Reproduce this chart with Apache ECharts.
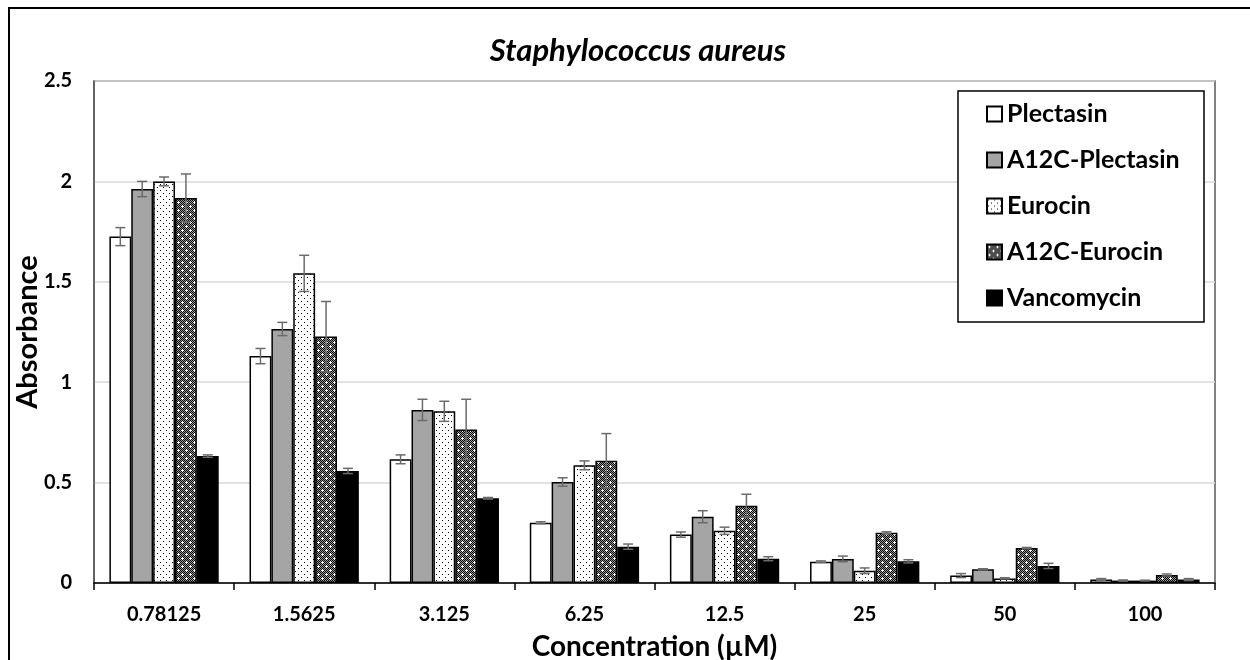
<!DOCTYPE html>
<html>
<head>
<meta charset="utf-8">
<title>Staphylococcus aureus</title>
<script src="https://cdn.jsdelivr.net/npm/echarts@6/dist/echarts.min.js"></script>
<style>
  html, body { margin: 0; padding: 0; background: #fff; }
  #chart { width: 1250px; height: 660px; }
</style>
</head>
<body>
<div id="chart"></div>
<script>
// Concentrations on the x axis (µM)
const categories = ['0.78125', '1.5625', '3.125', '6.25', '12.5', '25', '50', '100'];

// Mean absorbance per peptide / antibiotic, with standard deviations
const plectasin        = [1.725, 1.130, 0.616, 0.300, 0.241, 0.106, 0.037, 0.017];
const plectasinErr     = [0.045, 0.038, 0.022, 0.005, 0.013, 0.004, 0.010, 0.005];
const a12cPlectasin    = [1.962, 1.265, 0.862, 0.503, 0.330, 0.120, 0.068, 0.012];
const a12cPlectasinErr = [0.038, 0.033, 0.053, 0.021, 0.030, 0.014, 0.003, 0.003];
const eurocin          = [2.000, 1.542, 0.855, 0.586, 0.260, 0.061, 0.023, 0.012];
const eurocinErr       = [0.022, 0.090, 0.050, 0.022, 0.018, 0.014, 0.003, 0.002];
const a12cEurocin      = [1.917, 1.227, 0.765, 0.609, 0.385, 0.250, 0.174, 0.040];
const a12cEurocinErr   = [0.120, 0.175, 0.150, 0.135, 0.057, 0.005, 0.003, 0.005];
const vancomycin       = [0.632, 0.558, 0.422, 0.181, 0.121, 0.108, 0.085, 0.017];
const vancomycinErr    = [0.006, 0.013, 0.004, 0.013, 0.010, 0.008, 0.013, 0.005];

const seriesNames = ['Plectasin', 'A12C-Plectasin', 'Eurocin', 'A12C-Eurocin', 'Vancomycin'];
const seriesValues = [plectasin, a12cPlectasin, eurocin, a12cEurocin, vancomycin];
const seriesErrors = [plectasinErr, a12cPlectasinErr, eurocinErr, a12cEurocinErr, vancomycinErr];

// Fill patterns drawn on small tiles
function makeTile(w, h, paint) {
  const c = document.createElement('canvas');
  c.width = w; c.height = h;
  const ctx = c.getContext('2d');
  paint(ctx);
  return c;
}
// sparse black dots on white
const dotTile = makeTile(6, 6, ctx => {
  ctx.fillStyle = '#fff'; ctx.fillRect(0, 0, 6, 6);
  ctx.fillStyle = '#000';
  ctx.fillRect(1, 1, 1, 1);
  ctx.fillRect(4, 4, 1, 1);
});
// dense dark checker with white crosses
const checkTile = makeTile(8, 8, ctx => {
  ctx.fillStyle = '#9a9a9a'; ctx.fillRect(0, 0, 8, 8);
  ctx.fillStyle = '#000';
  for (let y = 0; y < 8; y++) for (let x = 0; x < 8; x++) if ((x + y) % 2 === 0) ctx.fillRect(x, y, 1, 1);
  ctx.fillStyle = '#fff';
  [[2, 2], [6, 6]].forEach(([cx, cy]) => {
    ctx.fillRect(cx - 1, cy, 3, 1);
    ctx.fillRect(cx, cy - 1, 1, 3);
  });
});

const fills = [
  '#ffffff',
  '#a5a5a5',
  { image: dotTile, repeat: 'repeat' },
  { image: checkTile, repeat: 'repeat' },
  '#000000'
];

const CAT_GAP = 0.22;
const N = seriesNames.length;

const barSeries = seriesNames.map((name, i) => ({
  name: name,
  type: 'bar',
  data: seriesValues[i],
  barGap: '0%',
  barCategoryGap: (CAT_GAP * 100) + '%',
  itemStyle: { color: fills[i], borderColor: '#000', borderWidth: 1.5 },
  z: 2
}));

// Error bars: [categoryIndex, seriesIndex, mean, sd]
const errData = [];
seriesValues.forEach((vals, s) => vals.forEach((v, c) => errData.push([c, s, v, seriesErrors[s][c]])));

const errorSeries = {
  type: 'custom',
  name: 'error',
  data: errData,
  z: 5,
  silent: true,
  encode: { x: 0, y: [2] },
  renderItem: function (params, api) {
    const c = api.value(0), s = api.value(1), m = api.value(2), e = api.value(3);
    const band = api.size([1, 0])[0];
    const barW = band * (1 - CAT_GAP) / N;
    const center = api.coord([c, 0])[0];
    const x = center - band * (1 - CAT_GAP) / 2 + barW * (s + 0.5);
    const yHi = api.coord([c, m + e])[1];
    const yLo = api.coord([c, m - e])[1];
    const cap = 5;
    const style = { stroke: '#6b6b6b', lineWidth: 1.5, fill: null };
    return {
      type: 'group',
      children: [
        { type: 'line', shape: { x1: x, y1: yHi, x2: x, y2: yLo }, style: style },
        { type: 'line', shape: { x1: x - cap, y1: yHi, x2: x + cap, y2: yHi }, style: style },
        { type: 'line', shape: { x1: x - cap, y1: yLo, x2: x + cap, y2: yLo }, style: style }
      ]
    };
  }
};

const FONT = 'Lato, "Open Sans", sans-serif';

const chart = echarts.init(document.getElementById('chart'), null, { renderer: 'canvas' });
chart.setOption({
  animation: false,
  backgroundColor: '#fff',
  textStyle: { fontFamily: FONT },
  title: {
    text: 'Staphylococcus aureus',
    left: 633,
    top: 30,
    textAlign: 'center',
    textStyle: { fontFamily: FONT, fontStyle: 'italic', fontWeight: 'bold', fontSize: 31, color: '#000' }
  },
  legend: {
    data: seriesNames,
    orient: 'vertical',
    left: 986,
    top: 101,
    padding: 0,
    itemWidth: 15,
    itemHeight: 15,
    itemGap: 20,
    itemTextGap: 8,
    icon: 'rect',
    selectedMode: false,
    textStyle: { fontFamily: FONT, fontWeight: 'bold', fontSize: 25, color: '#000', lineHeight: 26 }
  },
  grid: {
    left: 94, top: 81, right: 35, bottom: 77,
    outerBoundsMode: 'none',
    containLabel: false,
    show: true, borderColor: '#595959', borderWidth: 1.5, backgroundColor: 'transparent'
  },
  xAxis: {
    type: 'category',
    data: categories,
    name: 'Concentration (\u00b5M)',
    nameLocation: 'middle',
    nameGap: 50,
    nameTextStyle: { fontFamily: FONT, fontWeight: 'bold', fontSize: 28, color: '#000' },
    axisLine: { lineStyle: { color: '#000', width: 1.5 } },
    axisTick: { show: true, length: 7, lineStyle: { color: '#000', width: 1.5 } },
    axisLabel: { fontFamily: FONT, fontWeight: 'bold', fontSize: 20, color: '#000', margin: 22 },
    splitLine: { show: false }
  },
  yAxis: {
    type: 'value',
    min: 0, max: 2.5, interval: 0.5,
    name: 'Absorbance',
    nameLocation: 'middle',
    nameGap: 52,
    nameMoveOverlap: false,
    nameTextStyle: { fontFamily: FONT, fontWeight: 'bold', fontSize: 29, color: '#000' },
    axisLine: { show: true, lineStyle: { color: '#595959', width: 1.5 } },
    axisTick: { show: false },
    axisLabel: { fontFamily: FONT, fontWeight: 'bold', fontSize: 20, color: '#000', margin: 22 },
    splitLine: { lineStyle: { color: '#d9d9d9', width: 1.5 } }
  },
  graphic: [
    { type: 'rect', shape: { x: 9, y: 8, width: 1260, height: 680 }, style: { fill: null, stroke: '#000', lineWidth: 2 }, z: 0, silent: true },
    { type: 'rect', shape: { x: 958, y: 91, width: 246, height: 231 }, style: { fill: '#fff', stroke: '#000', lineWidth: 1.5 }, z: 3, silent: true }
  ],
  series: barSeries.concat([errorSeries])
});
</script>
</body>
</html>
